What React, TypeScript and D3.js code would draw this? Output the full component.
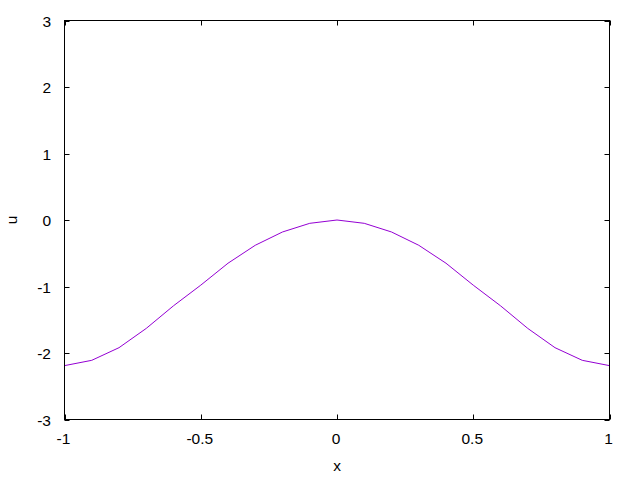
import * as d3 from "d3";

const xs = [-1, -0.9, -0.8, -0.7, -0.6, -0.5, -0.4, -0.3, -0.2, -0.1, 0, 0.1, 0.2, 0.3, 0.4, 0.5, 0.6, 0.7, 0.8, 0.9, 1];
const us = [-2.19, -2.11, -1.92, -1.63, -1.29, -0.98, -0.65, -0.38, -0.18, -0.05, 0, -0.05, -0.18, -0.38, -0.65, -0.98, -1.29, -1.63, -1.92, -2.11, -2.19];
const xTicks = [-1, -0.5, 0, 0.5, 1];
const yTicks = [-3, -2, -1, 0, 1, 2, 3];

const W = 640, H = 480;
const L = 64.5, R = 609.5, T = 20.5, B = 419.5;
const TICK = 5;
const FONT = "'Liberation Sans', Arial, sans-serif";

export default function App() {
  const x = d3.scaleLinear().domain([-1, 1]).range([L, R]);
  const y = d3.scaleLinear().domain([-3, 3]).range([B, T]);
  const line = d3.line<number>().x((_, i) => x(xs[i])).y(d => y(d));

  return (
    <svg width={W} height={H} style={{ position: "absolute", left: 0, top: 0, background: "#fff" }}
      fontFamily={FONT} fontSize={15.5}>
      <rect width={W} height={H} fill="#fff" />
      <path d={line(us) || ""} fill="none" stroke="#9400d3" strokeWidth={1} />
      <g stroke="#000" strokeWidth={1}>
        {xTicks.map(t => (
          <g key={"x" + t}>
            <line x1={Math.round(x(t)) + 0.5} x2={Math.round(x(t)) + 0.5} y1={B} y2={B - TICK} />
            <line x1={Math.round(x(t)) + 0.5} x2={Math.round(x(t)) + 0.5} y1={T} y2={T + TICK} />
          </g>
        ))}
        {yTicks.map(t => (
          <g key={"y" + t}>
            <line x1={L} x2={L + TICK} y1={Math.round(y(t)) + 0.5} y2={Math.round(y(t)) + 0.5} />
            <line x1={R} x2={R - TICK} y1={Math.round(y(t)) + 0.5} y2={Math.round(y(t)) + 0.5} />
          </g>
        ))}
        <rect x={L} y={T} width={R - L} height={B - T} fill="none" />
      </g>
      {xTicks.map(t => (
        <text key={"xl" + t} x={x(t) - 1} y={443.5} textAnchor="middle" fill="#000">{String(t)}</text>
      ))}
      {yTicks.map(t => (
        <text key={"yl" + t} x={51} y={y(t) + 6} textAnchor="end" fill="#000">{String(t)}</text>
      ))}
      <text x={(L + R) / 2} y={471} textAnchor="middle" fill="#000">x</text>
      <text transform={`translate(17,${(T + B) / 2}) rotate(-90)`} textAnchor="middle" fill="#000">u</text>
    </svg>
  );
}
